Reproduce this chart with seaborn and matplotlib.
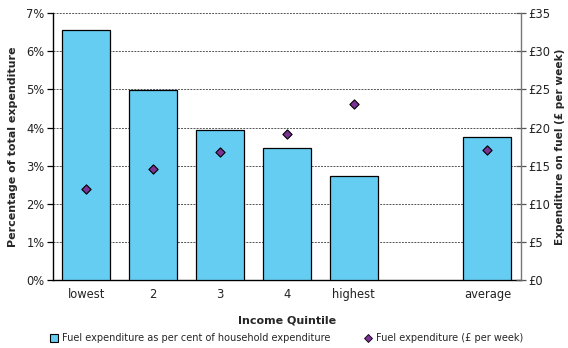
import matplotlib
matplotlib.use("Agg")
import matplotlib.pyplot as plt
from matplotlib.patches import Patch
from matplotlib.lines import Line2D
from matplotlib.ticker import FuncFormatter, FixedLocator
import seaborn as sns
import pandas as pd
import numpy as np

sns.set_theme(style="white")
plt.rcParams["font.family"] = ["DejaVu Sans"]

# Data
categories = ["lowest", "2", "3", "4", "highest", "", "average"]
share_pct = [6.56, 4.99, 3.94, 3.46, 2.74, np.nan, 3.75]
fuel_gbp = [12.0, 14.6, 16.8, 19.1, 23.1, np.nan, 17.1]

df = pd.DataFrame({"quintile": categories, "share": share_pct, "fuel": fuel_gbp})

bar_color = "#66CDF2"
dot_color = "#7B3294"

fig = plt.figure(figsize=(5.68, 3.48), dpi=100)
ax = fig.add_axes([0.0933, 0.1954, 0.8237, 0.7664])

sns.barplot(data=df, x="quintile", y="share", order=categories, ax=ax,
            color=bar_color, saturation=1, width=0.72,
            edgecolor="black", linewidth=0.9, zorder=3)

ax.set_ylim(0, 7)
ax.set_xlim(-0.5, len(categories) - 0.5)
ax.yaxis.set_major_locator(FixedLocator(range(0, 8)))
ax.yaxis.set_major_formatter(FuncFormatter(lambda v, p: f"{int(v)}%"))
ax.grid(axis="y", color="#555555", linestyle=(0, (2, 1.2)), linewidth=0.7, zorder=0)
ax.set_axisbelow(True)

ax.set_xlabel("Income Quintile", fontsize=8, fontweight="bold", labelpad=10)
ax.set_ylabel("Percentage of total expenditure", fontsize=8, fontweight="bold", labelpad=6)
ax.tick_params(axis="x", length=0, labelsize=8.3, pad=6, colors="#222222")
ax.set_xticks(range(len(categories)), categories)
ax.set_xticks(np.arange(0.5, len(categories) - 0.5, 1), minor=True)
ax.tick_params(axis="x", which="minor", direction="inout", length=7, width=0.9, color="black")
ax.tick_params(axis="y", direction="out", length=4, width=0.9, labelsize=8.3, colors="#222222", pad=2)
ax.tick_params(axis="y", color="black")

for side in ["top", "right"]:
    ax.spines[side].set_visible(False)
ax.spines["left"].set_color("black")
ax.spines["bottom"].set_color("black")
ax.spines["left"].set_linewidth(1.0)
ax.spines["bottom"].set_linewidth(1.0)

# Secondary axis for weekly spending
ax2 = ax.twinx()
sns.scatterplot(data=df, x="quintile", y="fuel", ax=ax2, marker="D", s=22,
                color=dot_color, edgecolor="black", linewidth=0.8, zorder=5)
ax2.set_ylim(0, 35)
ax2.set_xlim(-0.5, len(categories) - 0.5)
ax2.yaxis.set_major_locator(FixedLocator(range(0, 40, 5)))
ax2.yaxis.set_major_formatter(FuncFormatter(lambda v, p: f"£{int(v)}"))
ax2.set_ylabel("Expenditure on fuel (£ per week)", fontsize=7.6, fontweight="bold", labelpad=3)
ax2.tick_params(axis="y", direction="inout", length=7, width=0.9, labelsize=8.3,
                colors="#222222", pad=2)
ax2.tick_params(axis="y", color="#555555")
for side in ["top", "left", "bottom"]:
    ax2.spines[side].set_visible(False)
ax2.spines["right"].set_color("#777777")
ax2.spines["right"].set_linewidth(1.0)
ax2.grid(False)

handles = [
    Patch(facecolor=bar_color, edgecolor="black", linewidth=0.8,
          label="Fuel expenditure as per cent of household expenditure"),
    Line2D([], [], marker="D", linestyle="none", markersize=4, markerfacecolor=dot_color,
           markeredgecolor="black", markeredgewidth=0.6, label="Fuel expenditure (£ per week)"),
]
fig.legend(handles=handles, loc="lower center", bbox_to_anchor=(0.505, -0.012), ncol=2,
           frameon=False, fontsize=7, handlelength=0.8, handleheight=0.8,
           handletextpad=0.4, columnspacing=3.5)

fig.savefig("out.png", dpi=100)
